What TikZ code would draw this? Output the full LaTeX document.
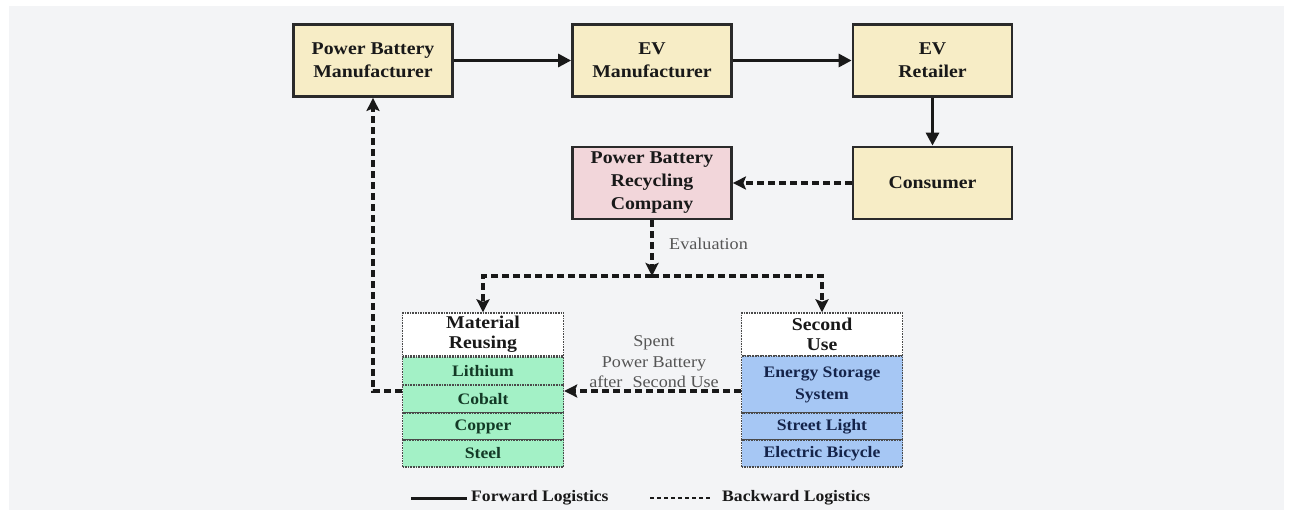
\documentclass[tikz,border=0pt]{standalone}
\usepackage{fontspec}
\setmainfont{Liberation Serif}[FakeStretch=1.1]
\usetikzlibrary{arrows.meta}
\definecolor{bg}{HTML}{F3F4F6}
\definecolor{ylw}{HTML}{F7EDC6}
\definecolor{pnk}{HTML}{F2D6DA}
\definecolor{grn}{HTML}{A3F1C6}
\definecolor{blu}{HTML}{A6C7F4}
\definecolor{edge}{HTML}{2A2A2A}
\definecolor{gtxt}{HTML}{133A26}
\definecolor{btxt}{HTML}{15244A}
\definecolor{lbl}{HTML}{555555}
\begin{document}
\begin{tikzpicture}[x=1pt,y=-1pt,
  mainbox/.style={draw=edge,line width=2.8pt,minimum width=159pt,minimum height=72pt,
    inner sep=0pt,align=center,font=\fontsize{18}{23}\selectfont\bfseries,text=black!90},
  cell/.style={draw=edge!85,line width=1.4pt,dash pattern=on 1.6pt off 1pt,
    minimum width=161pt,inner sep=0pt,align=center,font=\fontsize{16}{22}\selectfont\bfseries},
  head/.style={cell,fill=white,minimum height=43pt,font=\fontsize{18}{20}\selectfont\bfseries,text=black!90},
  gcell/.style={cell,fill=grn,text=gtxt},
  bcell/.style={cell,fill=blu,text=btxt},
  fwd/.style={line width=3pt,draw=black!90,-{Triangle[length=13pt,width=13pt]}},
  back/.style={line width=3.2pt,draw=black!90,dash pattern=on 7pt off 4pt,
    -{Stealth[length=13pt,width=13pt,inset=2.5pt]}},
  lbltext/.style={text=lbl,font=\fontsize{16.5}{20.5}\selectfont,align=center,inner sep=0pt}
]
\useasboundingbox (0,0) rectangle (1292,516);
\fill[white] (0,0) rectangle (1292,516);
\fill[bg] (9,6) rectangle (1284,510);

% main boxes
\node[mainbox,fill=ylw] (pbm) at (373,60.5) {Power Battery\\Manufacturer};
\node[mainbox,fill=ylw] (evm) at (652,60.5) {EV\\Manufacturer};
\node[mainbox,fill=ylw] (evr) at (932.5,60.5) {EV\\Retailer};
\node[mainbox,fill=ylw] (con) at (932.5,183) {Consumer};
\node[mainbox,fill=pnk] (rec) at (652,183) {Power Battery\\Recycling\\Company};

% material reusing
\node[head] (mh) at (483,334.5) {Material\\Reusing};
\node[gcell,minimum height=28pt] (li) at (483,371) {Lithium};
\node[gcell,minimum height=28pt] (co) at (483,399) {Cobalt};
\node[gcell,minimum height=27pt] (cu) at (483,426.5) {Copper};
\node[gcell,minimum height=27pt] (st) at (483,453.5) {Steel};

% second use
\node[head] (sh) at (822,334.5) {Second\\Use};
\node[bcell,minimum height=57pt] (ess) at (822,384.5) {Energy Storage\\System};
\node[bcell,minimum height=27pt] (sl) at (822,426.5) {Street Light};
\node[bcell,minimum height=27pt] (eb) at (822,453.5) {Electric Bicycle};

% forward arrows
\draw[fwd] (pbm) -- (evm);
\draw[fwd] (evm) -- (evr);
\draw[fwd] (evr) -- (con);

% backward arrows
\draw[back] (con) -- (rec);
\coordinate (hub) at (652,276);
\draw[back] (rec.south) -- (hub);
\draw[back] (hub) -| (mh.north);
\draw[back] (hub) -| (sh.north);
\draw[back] ([yshift=8pt]co.east -| ess.west) -- ([yshift=8pt]co.east);
\draw[back] ([yshift=8pt]co.west) -| (pbm.south);

% labels
\node[lbltext,anchor=west] (ev) at (669,244) {Evaluation};
\node[lbltext] (sp) at (654,362) {Spent\\Power Battery\\after\,\, Second Use};

% legend
\node[font=\fontsize{16}{20}\selectfont\bfseries,anchor=west,inner sep=0pt,text=black!90] (lf) at (471,498) {Forward Logistics};
\node[font=\fontsize{16}{20}\selectfont\bfseries,anchor=west,inner sep=0pt,text=black!90] (lb) at (722,498) {Backward Logistics};
\coordinate (lfs) at (411,498);
\coordinate (lbs) at (650,498);
\draw[line width=3pt,draw=black!90] (lfs) -- ([xshift=-4pt]lf.west);
\draw[line width=2.6pt,draw=black!90,dash pattern=on 4pt off 3pt] (lbs) -- ([xshift=-10pt]lb.west);
\end{tikzpicture}
\end{document}
